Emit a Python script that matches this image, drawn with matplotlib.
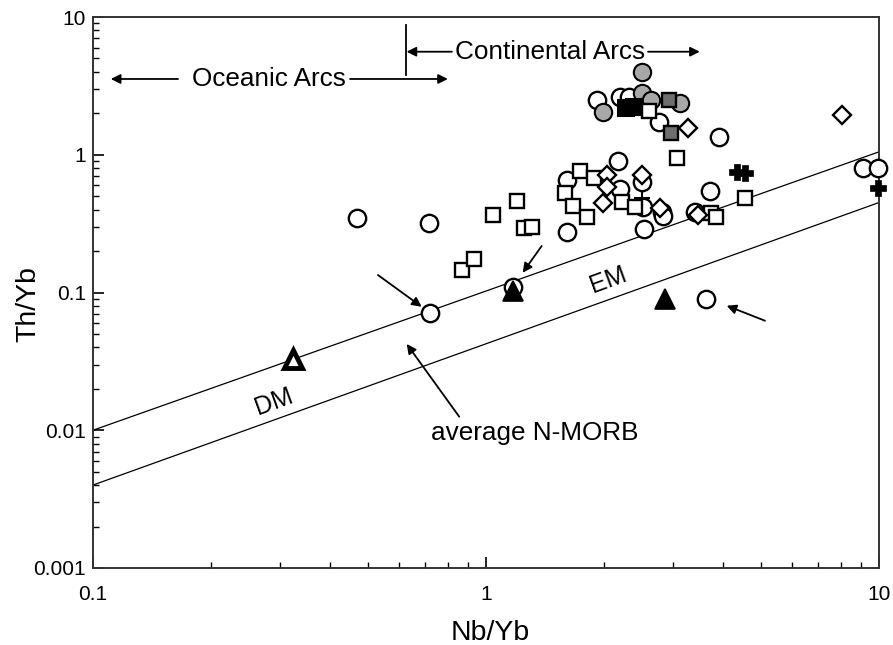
import matplotlib
matplotlib.use("Agg")
import matplotlib.pyplot as plt
from matplotlib.ticker import LogLocator, NullFormatter, FixedLocator, FixedFormatter

plt.rcParams['font.family'] = ['Liberation Sans', 'DejaVu Sans']

# --- data -------------------------------------------------------------
# MORB-OIB mantle array boundaries
array_x = [0.1, 10.0]
array_upper_y = [0.010, 1.05]
array_lower_y = [0.004, 0.45]

open_circle_x = [0.470, 0.715, 0.719, 1.174, 3.62, 1.604, 1.604, 2.171, 2.193,
                 2.513, 2.52, 2.49, 2.80, 2.82, 3.40, 3.715, 3.916, 9.11, 9.94,
                 2.751, 1.922, 2.193, 2.311]
open_circle_y = [0.346, 0.321, 0.0706, 0.110, 0.0902, 0.656, 0.273, 0.901, 0.564,
                 0.420, 0.289, 0.634, 0.386, 0.359, 0.386, 0.546, 1.352, 0.797, 0.797,
                 1.738, 2.497, 2.638, 2.638]

gray_circle_x = [2.494, 1.989, 2.49, 2.63, 3.116]
gray_circle_y = [4.01, 2.053, 2.793, 2.497, 2.395]

open_square_x = [0.868, 0.932, 1.045, 1.199, 1.246, 1.307, 1.589, 1.668, 1.735,
                 1.805, 1.883, 2.214, 2.394, 2.594, 3.068, 3.737, 3.848, 4.56]
open_square_y = [0.145, 0.176, 0.368, 0.462, 0.294, 0.301, 0.525, 0.425, 0.762,
                 0.355, 0.675, 0.456, 0.420, 2.066, 0.942, 0.378, 0.356, 0.483]

black_square_x = [2.271, 2.380]
black_square_y = [2.174, 2.222]

gray_square_x = [2.917, 2.951]
gray_square_y = [2.497, 1.431]

diamond_x = [1.989, 2.038, 2.03, 2.50, 2.78, 3.462, 3.271, 8.04]
diamond_y = [0.450, 0.713, 0.586, 0.713, 0.41, 0.365, 1.556, 1.944]

bold_plus_x = [4.35, 4.56, 9.94]
bold_plus_y = [0.753, 0.733, 0.571]

thin_plus_x = [2.50]
thin_plus_y = [0.483]

filled_triangle_x = [1.174, 2.855]
filled_triangle_y = [0.103, 0.0897]

open_triangle_x = [0.323]
open_triangle_y = [0.0327]

x_ticks = [0.1, 1, 10]
x_tick_labels = ['0.1', '1', '10']
y_ticks = [0.001, 0.01, 0.1, 1, 10]
y_tick_labels = ['0.001', '0.01', '0.1', '1', '10']

# --- figure -----------------------------------------------------------
fig = plt.figure(figsize=(8.93, 6.45), dpi=100)
ax = fig.add_axes([0.1041, 0.1194, 0.8802, 0.8542])
ax.set_xscale('log')
ax.set_yscale('log')
ax.set_xlim(0.1, 10)
ax.set_ylim(0.001, 10)

ax.plot(array_x, array_upper_y, color='black', lw=0.9, zorder=2)
ax.plot(array_x, array_lower_y, color='black', lw=0.9, zorder=2)

mk = dict(linestyle='none', markeredgecolor='black', clip_on=False)
ax.plot(open_circle_x, open_circle_y, marker='o', ms=12.5, mew=1.7,
        markerfacecolor='white', zorder=3, **mk)
ax.plot(gray_circle_x, gray_circle_y, marker='o', ms=12.5, mew=1.5,
        markerfacecolor='#a8a8a8', zorder=3, **mk)
ax.plot(open_square_x, open_square_y, marker='s', ms=10.5, mew=1.7,
        markerfacecolor='white', zorder=4, **mk)
ax.plot(black_square_x, black_square_y, marker='s', ms=11, mew=1.5,
        markerfacecolor='black', zorder=4, **mk)
ax.plot(gray_square_x, gray_square_y, marker='s', ms=10.5, mew=1.7,
        markerfacecolor='#6e6e6e', zorder=4, **mk)
ax.plot(diamond_x, diamond_y, marker='D', ms=9.5, mew=1.7,
        markerfacecolor='white', zorder=5, **mk)
ax.plot(bold_plus_x, bold_plus_y, marker='P', ms=11, mew=0.5,
        markerfacecolor='black', zorder=5, **mk)
ax.plot(thin_plus_x, thin_plus_y, marker='+', ms=12, mew=1.5,
        color='black', zorder=5, linestyle='none')
ax.plot(filled_triangle_x, filled_triangle_y, marker='^', ms=14, mew=1.2,
        markerfacecolor='black', zorder=6, **mk)
ax.plot(open_triangle_x, open_triangle_y, marker='^', ms=13, mew=3.5,
        markerfacecolor='white', zorder=6, **mk)

# --- axes styling -----------------------------------------------------
for s in ax.spines.values():
    s.set_linewidth(1.4)
    s.set_color('#333333')

ax.xaxis.set_major_locator(FixedLocator(x_ticks))
ax.xaxis.set_major_formatter(FixedFormatter(x_tick_labels))
ax.yaxis.set_major_locator(FixedLocator(y_ticks))
ax.yaxis.set_major_formatter(FixedFormatter(y_tick_labels))
ax.xaxis.set_minor_locator(LogLocator(base=10, subs=range(2, 10)))
ax.yaxis.set_minor_locator(LogLocator(base=10, subs=range(2, 10)))
ax.xaxis.set_minor_formatter(NullFormatter())
ax.yaxis.set_minor_formatter(NullFormatter())
ax.tick_params(which='major', direction='in', length=8, width=1.2,
               labelsize=15, pad=5)
ax.tick_params(which='minor', direction='in', length=4.5, width=1.0)
ax.tick_params(axis='x', which='major', pad=12)

ax.set_xlabel('Nb/Yb', fontsize=20.5)
ax.set_ylabel('Th/Yb', fontsize=20.5)
ax.xaxis.set_label_coords(0.506, -0.094)
ax.yaxis.set_label_coords(-0.066, 0.479)

# --- annotations ------------------------------------------------------
arrow = dict(arrowstyle='-|>', color='black', lw=1.3, mutation_scale=14,
             shrinkA=0, shrinkB=0)
txt = dict(fontsize=18.8, ha='center', va='center')

# Oceanic arcs range
ax.text(0.281, 3.55, 'Oceanic Arcs', **txt)
ax.annotate('', xy=(0.111, 3.55), xytext=(0.1646, 3.55), arrowprops=arrow)
ax.annotate('', xy=(0.80, 3.55), xytext=(0.451, 3.55), arrowprops=arrow)

# Continental arcs range
ax.plot([0.625, 0.625], [3.79, 8.75], color='black', lw=1.3)
ax.text(1.455, 5.6, 'Continental Arcs', **txt)
ax.annotate('', xy=(0.628, 5.6), xytext=(0.819, 5.6), arrowprops=arrow)
ax.annotate('', xy=(3.50, 5.6), xytext=(2.584, 5.6), arrowprops=arrow)

# Mantle array labels
ax.text(0.288, 0.0161, 'DM', fontsize=18, ha='center', va='center', rotation=20)
ax.text(2.048, 0.123, 'EM', fontsize=18, ha='center', va='center', rotation=20)

# Pointer arrows
ax.annotate('', xy=(0.686, 0.0788), xytext=(0.531, 0.134), arrowprops=arrow)
ax.annotate('', xy=(1.240, 0.1392), xytext=(1.386, 0.2177), arrowprops=arrow)
ax.annotate('', xy=(4.098, 0.0802), xytext=(5.128, 0.0624), arrowprops=arrow)
ax.annotate('', xy=(0.6286, 0.0423), xytext=(0.855, 0.01254), arrowprops=arrow)
ax.text(1.333, 0.00955, 'average N-MORB', **txt)

fig.savefig('out.png', dpi=100)
